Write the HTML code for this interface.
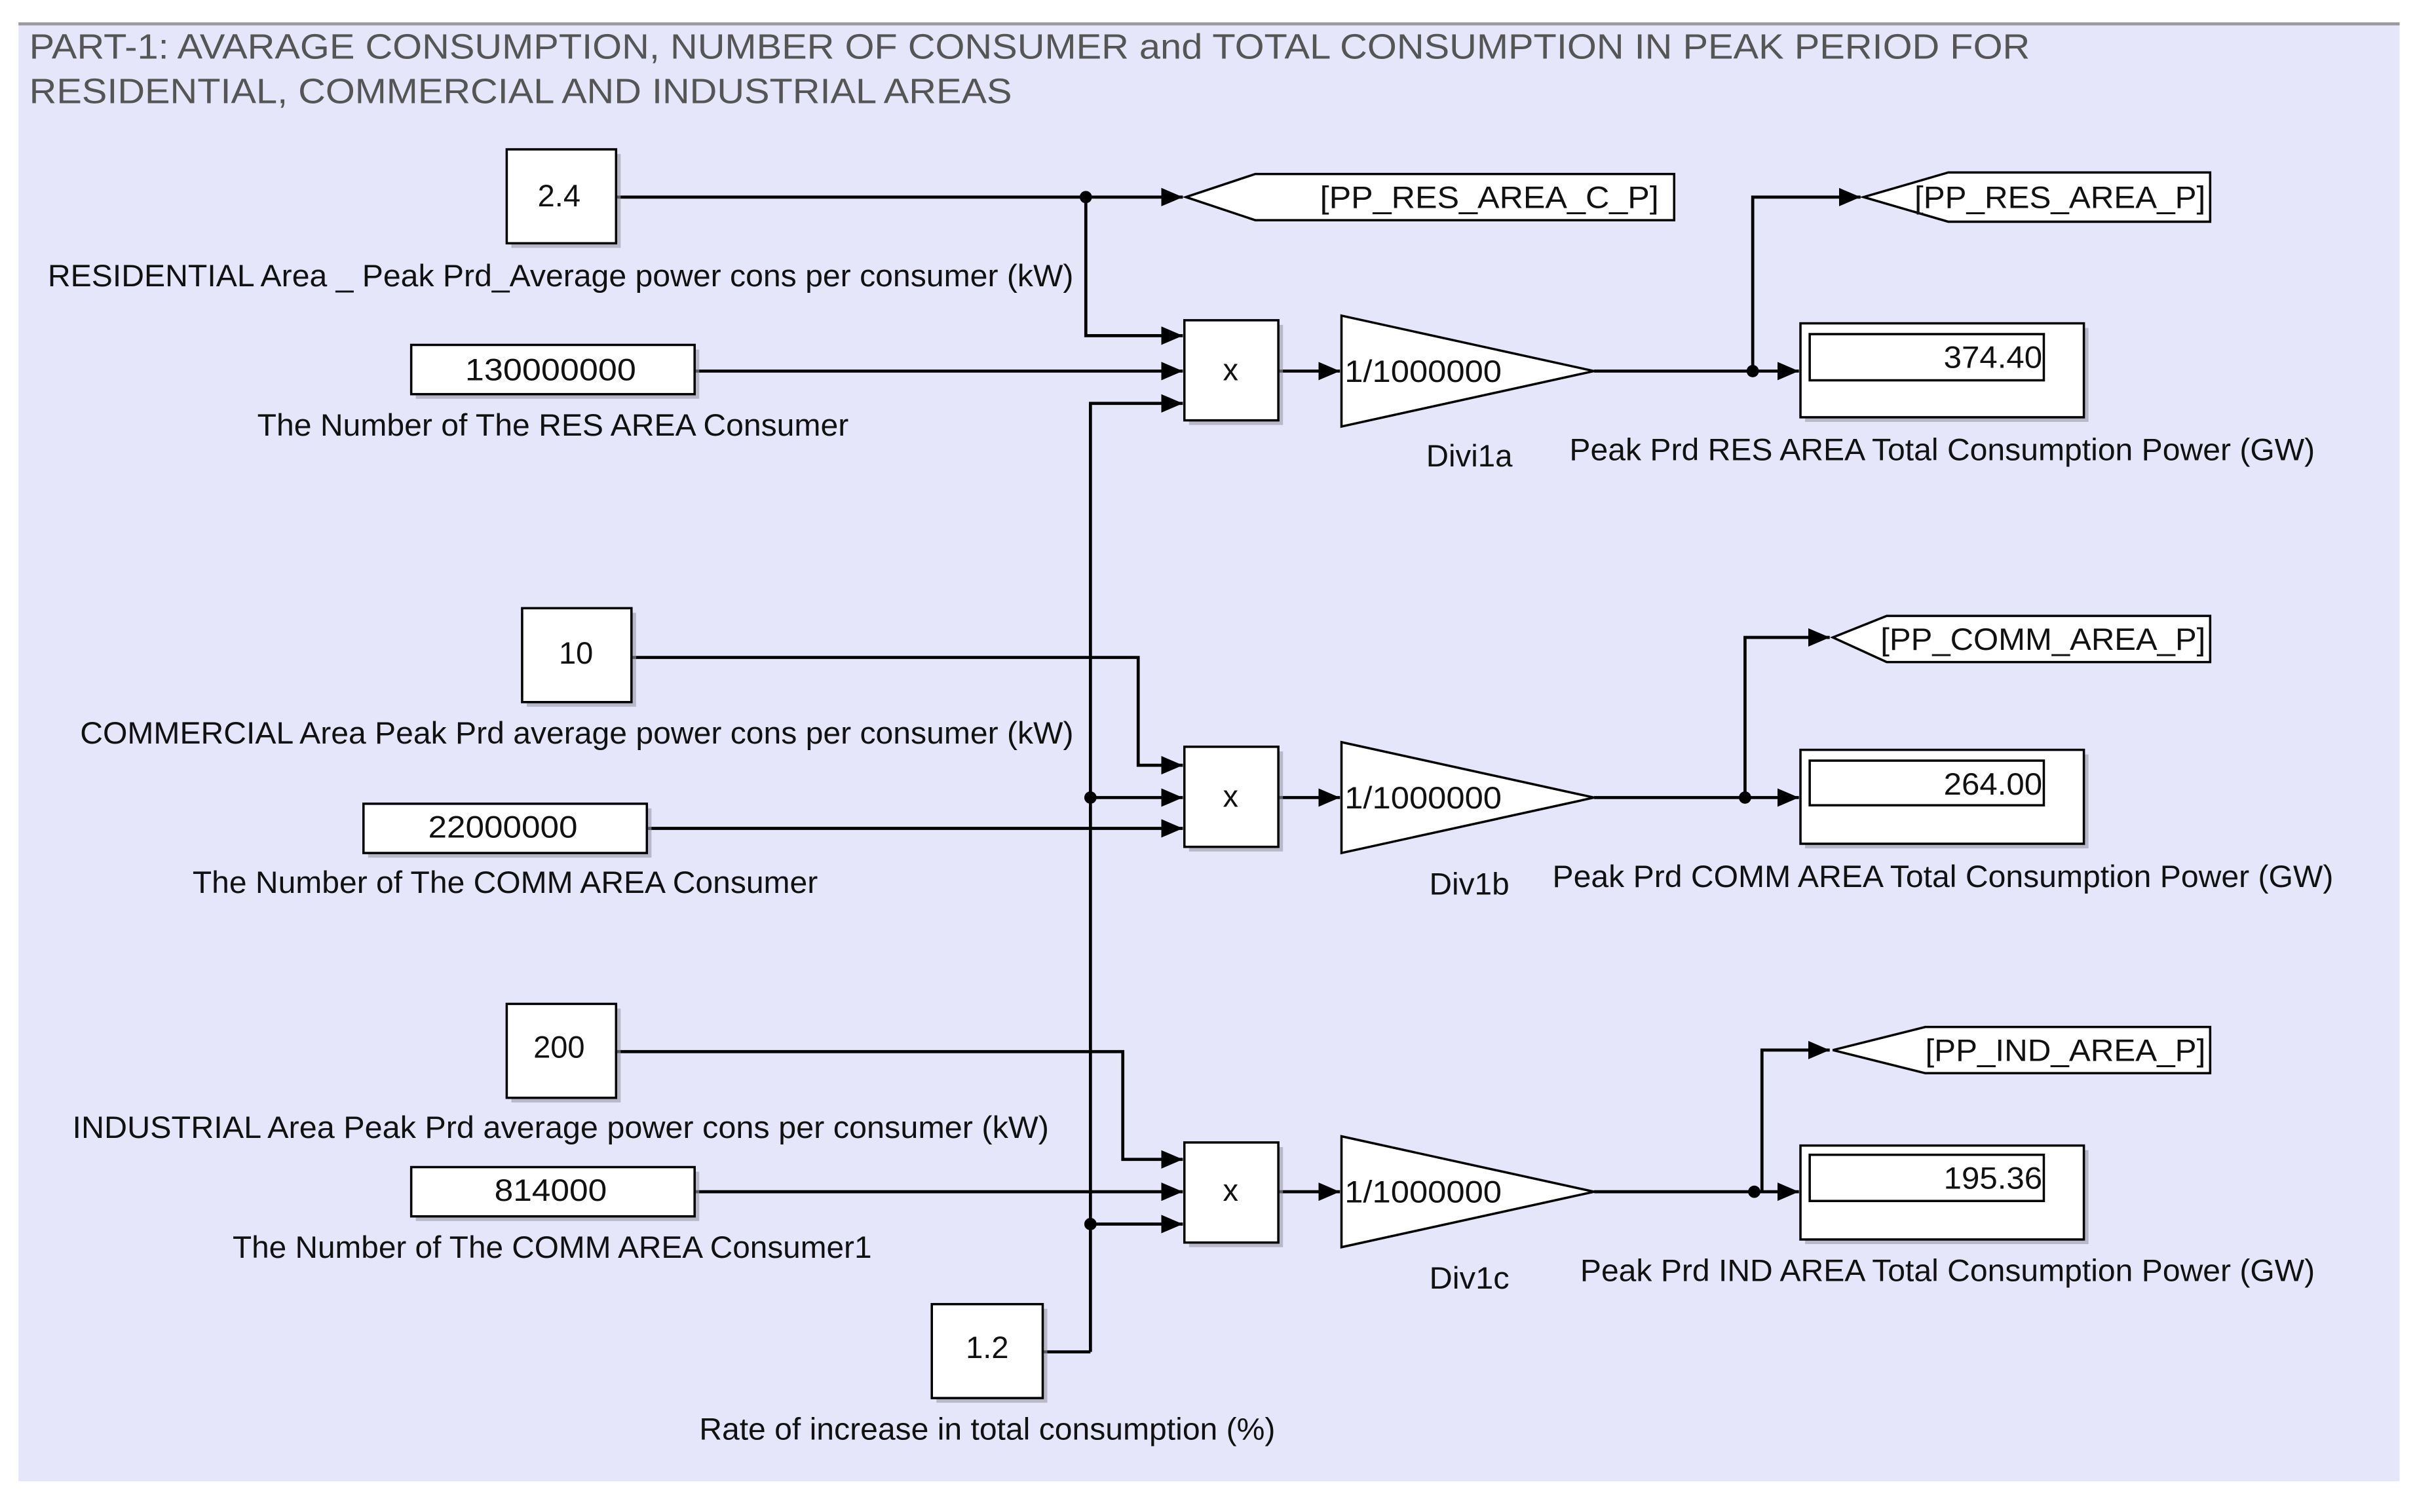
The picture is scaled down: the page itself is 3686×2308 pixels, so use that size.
<!DOCTYPE html>
<html><head><meta charset="utf-8"><style>
html,body{margin:0;padding:0;background:#fff;}
svg{display:block;}
text{font-family:"Liberation Sans",sans-serif;}
</style></head><body>
<svg width="3686" height="2308" viewBox="0 0 1568 982" preserveAspectRatio="none" xmlns="http://www.w3.org/2000/svg">
<defs>
<marker id="a" viewBox="0 0 14 12" refX="14" refY="6" markerWidth="14" markerHeight="12" markerUnits="userSpaceOnUse" orient="auto"><path d="M0,0 L14,6 L0,12z" fill="#000"/></marker>
</defs>
<rect x="0" y="0" width="1568" height="982" fill="#fff"/>
<rect x="12" y="15" width="1546" height="947" fill="#e6e6fa"/>
<line x1="12" y1="15.5" x2="1558" y2="15.5" stroke="#999" stroke-width="2"/>
<text x="19" y="38" font-size="23" fill="#555" textLength="1299" lengthAdjust="spacingAndGlyphs">PART-1: AVARAGE CONSUMPTION, NUMBER OF CONSUMER and TOTAL CONSUMPTION IN PEAK PERIOD FOR</text>
<text x="19" y="67" font-size="23" fill="#555" textLength="638" lengthAdjust="spacingAndGlyphs">RESIDENTIAL, COMMERCIAL AND INDUSTRIAL AREAS</text>

<g fill="none" stroke="#000" stroke-width="2">
<polyline points="400,128 768,128" marker-end="url(#a)"/>
<polyline points="705,128 705,218 768,218" marker-end="url(#a)"/>
<polyline points="451,241 768,241" marker-end="url(#a)"/>
<polyline points="708,878 708,262 768,262" marker-end="url(#a)"/>
<polyline points="830,241 870,241" marker-end="url(#a)"/>
<polyline points="1035,241 1168,241" marker-end="url(#a)"/>
<polyline points="1138,241 1138,128 1208,128" marker-end="url(#a)"/>
<polyline points="410,427 739,427 739,497 768,497" marker-end="url(#a)"/>
<polyline points="708,518 768,518" marker-end="url(#a)"/>
<polyline points="420,538 768,538" marker-end="url(#a)"/>
<polyline points="830,518 870,518" marker-end="url(#a)"/>
<polyline points="1035,518 1168,518" marker-end="url(#a)"/>
<polyline points="1133,518 1133,414 1188,414" marker-end="url(#a)"/>
<polyline points="400,683 729,683 729,753 768,753" marker-end="url(#a)"/>
<polyline points="451,774 768,774" marker-end="url(#a)"/>
<polyline points="708,795 768,795" marker-end="url(#a)"/>
<polyline points="677,878 708,878"/>
<polyline points="830,774 870,774" marker-end="url(#a)"/>
<polyline points="1035,774 1168,774" marker-end="url(#a)"/>
<polyline points="1144,774 1144,682 1188,682" marker-end="url(#a)"/>
</g>
<g fill="#000">
<circle cx="705" cy="128" r="4"/><circle cx="1138" cy="241" r="4"/>
<circle cx="708" cy="518" r="4"/><circle cx="1133" cy="518" r="4"/>
<circle cx="708" cy="795" r="4"/><circle cx="1139" cy="774" r="4"/>
</g>

<g fill="#9a9aa8" opacity="0.6">
<rect x="332" y="100" width="71" height="61"/><rect x="270" y="227" width="184" height="32"/>
<rect x="342" y="398" width="71" height="61"/><rect x="239" y="525" width="184" height="32"/>
<rect x="332" y="655" width="71" height="61"/><rect x="270" y="761" width="184" height="32"/>
<rect x="608" y="850" width="72" height="61"/>
<rect x="772" y="211" width="61" height="65"/><rect x="772" y="488" width="61" height="65"/><rect x="772" y="745" width="61" height="65"/>
<rect x="1172" y="213" width="184" height="61"/><rect x="1172" y="490" width="184" height="61"/><rect x="1172" y="747" width="184" height="61"/>
</g>

<g fill="#fff" stroke="#000" stroke-width="1.5">
<rect x="329" y="97" width="71" height="61"/>
<rect x="267" y="224" width="184" height="32"/>
<rect x="339" y="395" width="71" height="61"/>
<rect x="236" y="522" width="184" height="32"/>
<rect x="329" y="652" width="71" height="61"/>
<rect x="267" y="758" width="184" height="32"/>
<rect x="605" y="847" width="72" height="61"/>
<rect x="769" y="208" width="61" height="65"/>
<rect x="769" y="485" width="61" height="65"/>
<rect x="769" y="742" width="61" height="65"/>
<polygon points="871,205 1035,241 871,277"/>
<polygon points="871,482 1035,518 871,554"/>
<polygon points="871,738 1035,774 871,810"/>
<polygon points="770,128 815,113 1087,113 1087,143 815,143"/>
<polygon points="1210,128 1265,112 1435,112 1435,144 1265,144"/>
<polygon points="1190,414 1225,400 1435,400 1435,430 1225,430"/>
<polygon points="1190,682 1250,667 1435,667 1435,697 1250,697"/>
<rect x="1169" y="210" width="184" height="61"/>
<rect x="1169" y="487" width="184" height="61"/>
<rect x="1169" y="744" width="184" height="61"/>
<rect x="1175" y="217" width="152" height="30"/>
<rect x="1175" y="494" width="152" height="29"/>
<rect x="1175" y="750" width="152" height="30"/>
</g>

<g font-size="20" fill="#111" text-anchor="middle">
<text x="363" y="134">2.4</text>
<text x="374" y="431">10</text>
<text x="363" y="687">200</text>
<text x="641" y="882">1.2</text>
<text x="799" y="247">x</text><text x="799" y="524">x</text><text x="799" y="780">x</text>
</g>
<g font-size="20" fill="#111" lengthAdjust="spacingAndGlyphs">
<text x="302" y="247" textLength="111" lengthAdjust="spacingAndGlyphs">130000000</text>
<text x="278" y="544" textLength="97" lengthAdjust="spacingAndGlyphs">22000000</text>
<text x="321" y="780" textLength="73" lengthAdjust="spacingAndGlyphs">814000</text>
<text x="857" y="135" textLength="220" lengthAdjust="spacingAndGlyphs">[PP_RES_AREA_C_P]</text>
<text x="1243" y="135" textLength="189" lengthAdjust="spacingAndGlyphs">[PP_RES_AREA_P]</text>
<text x="1221" y="422" textLength="211" lengthAdjust="spacingAndGlyphs">[PP_COMM_AREA_P]</text>
<text x="1250" y="689" textLength="182" lengthAdjust="spacingAndGlyphs">[PP_IND_AREA_P]</text>
<text x="873" y="248" textLength="102" lengthAdjust="spacingAndGlyphs">1/1000000</text>
<text x="873" y="525" textLength="102" lengthAdjust="spacingAndGlyphs">1/1000000</text>
<text x="873" y="781" textLength="102" lengthAdjust="spacingAndGlyphs">1/1000000</text>
<text x="1262" y="239" textLength="64" lengthAdjust="spacingAndGlyphs">374.40</text>
<text x="1262" y="516" textLength="64" lengthAdjust="spacingAndGlyphs">264.00</text>
<text x="1262" y="772" textLength="64" lengthAdjust="spacingAndGlyphs">195.36</text>
</g>
<g font-size="20" fill="#111">
<text x="31" y="186" textLength="666" lengthAdjust="spacingAndGlyphs">RESIDENTIAL Area _ Peak Prd_Average power cons per consumer (kW)</text>
<text x="167" y="283" textLength="384" lengthAdjust="spacingAndGlyphs">The Number of The RES AREA Consumer</text>
<text x="926" y="303" textLength="56" lengthAdjust="spacingAndGlyphs">Divi1a</text>
<text x="1019" y="299" textLength="484" lengthAdjust="spacingAndGlyphs">Peak Prd RES AREA Total Consumption Power (GW)</text>
<text x="52" y="483" textLength="645" lengthAdjust="spacingAndGlyphs">COMMERCIAL Area Peak Prd average power cons per consumer (kW)</text>
<text x="125" y="580" textLength="406" lengthAdjust="spacingAndGlyphs">The Number of The COMM AREA Consumer</text>
<text x="928" y="581" textLength="52" lengthAdjust="spacingAndGlyphs">Div1b</text>
<text x="1008" y="576" textLength="507" lengthAdjust="spacingAndGlyphs">Peak Prd COMM AREA Total Consumption Power (GW)</text>
<text x="47" y="739" textLength="634" lengthAdjust="spacingAndGlyphs">INDUSTRIAL  Area Peak Prd average power cons per consumer (kW)</text>
<text x="151" y="817" textLength="415" lengthAdjust="spacingAndGlyphs">The Number of The COMM AREA Consumer1</text>
<text x="928" y="837" textLength="52" lengthAdjust="spacingAndGlyphs">Div1c</text>
<text x="1026" y="832" textLength="477" lengthAdjust="spacingAndGlyphs">Peak Prd IND AREA Total Consumption Power (GW)</text>
<text x="454" y="935" textLength="374" lengthAdjust="spacingAndGlyphs">Rate of increase in total consumption (%)</text>
</g>
</svg>
</body></html>
